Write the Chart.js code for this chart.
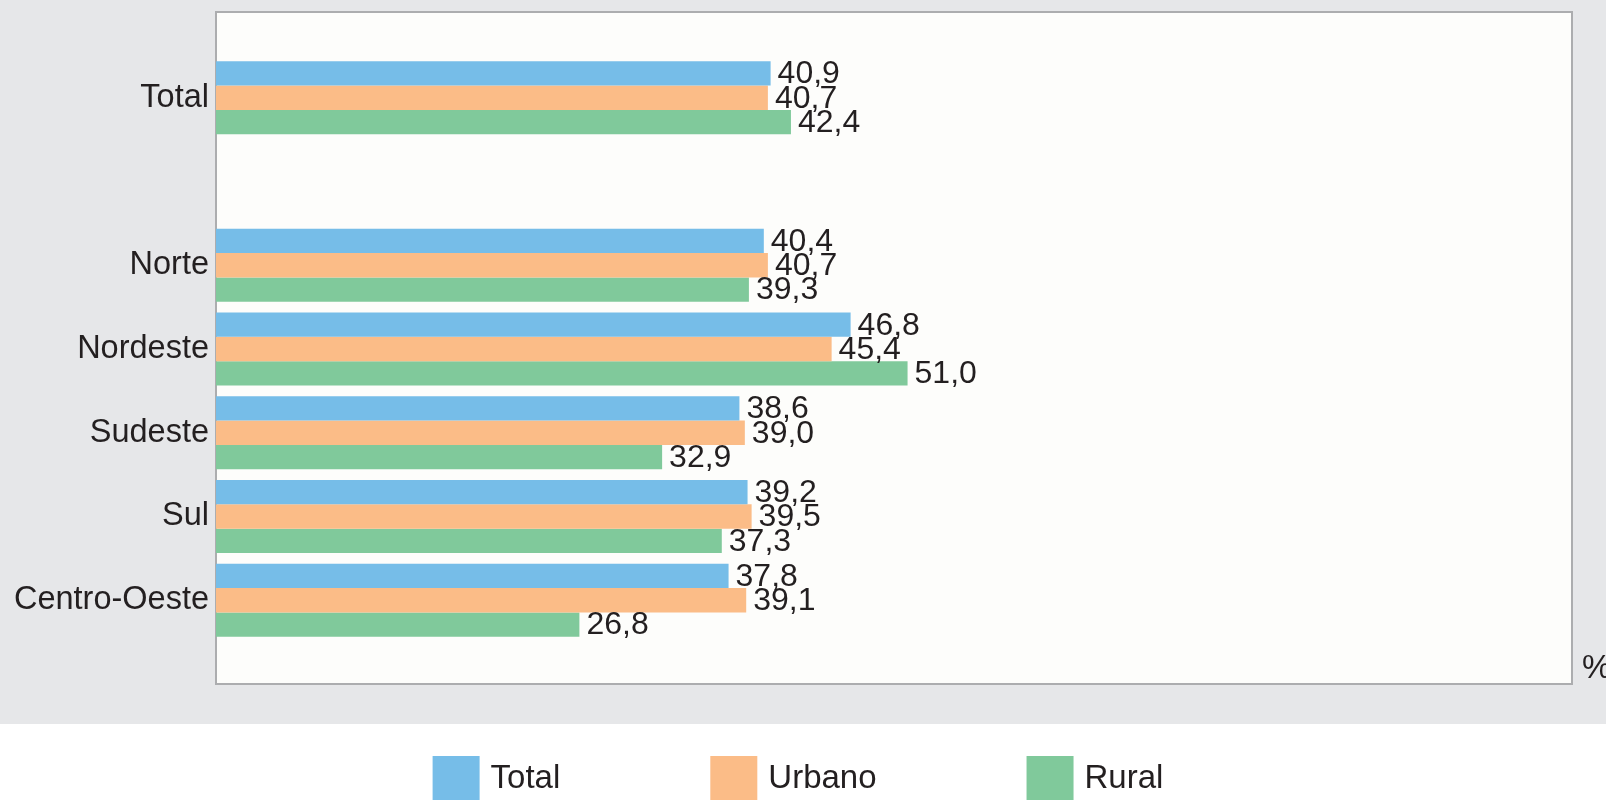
<!DOCTYPE html>
<html>
<head>
<meta charset="utf-8">
<script src="https://cdn.jsdelivr.net/npm/chart.js@4"></script>
<style>
  html, body { margin: 0; padding: 0; background: #ffffff; }
  #wrap { width: 1606px; height: 800px; }
</style>
</head>
<body>
<div id="wrap"><canvas id="chart" width="1606" height="800"></canvas></div>
<script>
// blank entries keep the gaps around / after the "Total" group
const categories = ['', 'Total', '', 'Norte', 'Nordeste', 'Sudeste', 'Sul', 'Centro-Oeste', ''];
const totalValues  = [null, 40.9, null, 40.4, 46.8, 38.6, 39.2, 37.8, null];
const urbanoValues = [null, 40.7, null, 40.7, 45.4, 39.0, 39.5, 39.1, null];
const ruralValues  = [null, 42.4, null, 39.3, 51.0, 32.9, 37.3, 26.8, null];
const seriesNames  = ['Total', 'Urbano', 'Rural'];
const seriesColors = ['#76bde8', '#fbbc87', '#80c99b'];

const FONT = '"Liberation Sans", Arial, Helvetica, sans-serif';
const TEXT_COLOR = '#231f20';

const fmt = (v) => v.toFixed(1).replace('.', ',');

const backgroundPlugin = {
    id: 'panelBackground',
    beforeDraw: (chart) => {
        const { ctx, chartArea: a, width, height } = chart;
        const top = a.top - 2;
        ctx.save();
        ctx.fillStyle = '#ffffff';
        ctx.fillRect(0, 0, width, height);
        ctx.fillStyle = '#e6e7e9';
        ctx.fillRect(0, 0, width, 724);
        ctx.fillStyle = '#fdfdfb';
        ctx.fillRect(a.left, top, a.right - a.left, a.bottom - top);
        ctx.strokeStyle = '#acadaf';
        ctx.lineWidth = 2;
        ctx.strokeRect(a.left, top, a.right - a.left, a.bottom - top);
        ctx.restore();
    }
};

const valueLabelPlugin = {
    id: 'valueLabels',
    afterDatasetsDraw: (chart) => {
        const { ctx } = chart;
        ctx.save();
        ctx.font = `32px ${FONT}`;
        ctx.fillStyle = TEXT_COLOR;
        ctx.textAlign = 'left';
        ctx.textBaseline = 'middle';
        chart.data.datasets.forEach((ds, i) => {
            const meta = chart.getDatasetMeta(i);
            meta.data.forEach((bar, j) => {
                const v = ds.data[j];
                if (v === null || v === undefined) return;
                ctx.fillText(fmt(v), bar.x + 7, bar.y + 1);
            });
        });
        ctx.restore();
    }
};

const legendPlugin = {
    id: 'bottomLegend',
    afterDraw: (chart) => {
        const { ctx, chartArea: a, width } = chart;
        ctx.save();
        ctx.font = `33px ${FONT}`;
        ctx.fillStyle = TEXT_COLOR;
        ctx.textBaseline = 'bottom';
        ctx.textAlign = 'left';
        ctx.fillText('%', a.right + 10, a.bottom + 1);

        const box = 47, gapText = 11, gapItem = 150;
        const items = chart.data.datasets.map(ds => ({
            label: ds.label,
            color: ds.backgroundColor,
            w: box + gapText + ctx.measureText(ds.label).width
        }));
        const total = items.reduce((s, it) => s + it.w, 0) + gapItem * (items.length - 1);
        let x = (width - total) / 2 - 5;
        ctx.textBaseline = 'middle';
        items.forEach(it => {
            ctx.fillStyle = it.color;
            ctx.fillRect(x, 756, box, 50);
            ctx.fillStyle = TEXT_COLOR;
            ctx.fillText(it.label, x + box + gapText, 779);
            x += it.w + gapItem;
        });
        ctx.restore();
    }
};

const datasets = [totalValues, urbanoValues, ruralValues].map((vals, i) => ({
    label: seriesNames[i],
    data: vals,
    backgroundColor: seriesColors[i],
    borderWidth: 0,
    categoryPercentage: 0.87,
    barPercentage: 1.0
}));

new Chart(document.getElementById('chart'), {
    type: 'bar',
    data: { labels: categories, datasets },
    plugins: [backgroundPlugin, valueLabelPlugin, legendPlugin],
    options: {
        indexAxis: 'y',
        responsive: false,
        animation: false,
        layout: { padding: { top: 14, right: 34, bottom: 116, left: 0 } },
        plugins: {
            legend: { display: false },
            tooltip: { enabled: false }
        },
        scales: {
            x: {
                display: false,
                min: 0,
                max: 100
            },
            y: {
                type: 'category',
                offset: false,
                border: { display: false },
                grid: { display: false, drawTicks: false },
                ticks: {
                    autoSkip: false,
                    padding: 7,
                    color: TEXT_COLOR,
                    font: { size: 32.5, family: FONT }
                },
                afterFit: (scale) => {
                    scale.width = 216;
                    scale.paddingTop = 0;
                    scale.paddingBottom = 0;
                }
            }
        }
    }
});
</script>
</body>
</html>
